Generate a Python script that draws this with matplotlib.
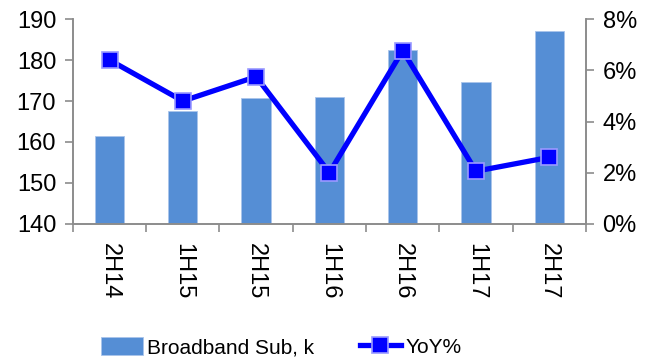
import matplotlib
matplotlib.use("Agg")
import matplotlib.pyplot as plt
from matplotlib.ticker import FuncFormatter

plt.rcParams['font.family'] = ['Liberation Sans', 'DejaVu Sans']

periods = ["2H14", "1H15", "2H15", "1H16", "2H16", "1H17", "2H17"]
broadband_subs = [161.5, 167.6, 170.8, 171.0, 182.4, 174.6, 187.1]
yoy_pct = [6.4, 4.8, 5.75, 2.0, 6.77, 2.06, 2.6]

bar_color = "#558ED5"
line_color = "#0000FF"
spine_color = "#8C8C8C"

fig = plt.figure(figsize=(6.51, 3.6), dpi=100)
ax = fig.add_axes([0.112, 0.378, 0.788, 0.569])
ax2 = ax.twinx()

x = list(range(len(periods)))
ax.bar(x, broadband_subs, width=0.4, color=bar_color, edgecolor="#A9C4EB",
       linewidth=0.6, label="Broadband Sub, k", zorder=2)
ax.set_ylim(140, 190)
ax.set_yticks(range(140, 191, 10))
ax.set_xlim(-0.5, len(periods) - 0.5)
ax.set_xticks([i - 0.5 for i in range(len(periods) + 1)], minor=False)
ax.set_xticklabels([])
ax.set_xticks(x, minor=True)
ax.set_xticklabels(periods, minor=True, rotation=270, fontsize=17)
ax.tick_params(axis="x", which="minor", length=0, pad=14)
ax.tick_params(axis="x", which="major", length=6, color=spine_color, width=1.2)
ax.tick_params(axis="y", length=6, color=spine_color, width=1.2, labelsize=17, pad=6)

ax2.plot(x, yoy_pct, color=line_color, linewidth=3.8, marker="s", markersize=12,
         markerfacecolor=line_color, markeredgecolor="#9A9AFF", markeredgewidth=1.2,
         label="YoY%", zorder=3)
ax2.set_ylim(0, 8)
ax2.set_yticks(range(0, 9, 2))
ax2.yaxis.set_major_formatter(FuncFormatter(lambda v, p: f"{v:.0f}%"))
ax2.tick_params(axis="y", length=6, color=spine_color, width=1.2, labelsize=17, pad=6)

for a in (ax, ax2):
    a.spines["top"].set_visible(False)
    for s in ("left", "right", "bottom"):
        a.spines[s].set_color(spine_color)
        a.spines[s].set_linewidth(1.2)

handles = ax.get_legend_handles_labels()[0] + ax2.get_legend_handles_labels()[0]
labels = ["Broadband Sub, k", "YoY%"]
fig.legend(handles, labels, loc="center", bbox_to_anchor=(0.432, 0.035),
           ncol=2, frameon=False, fontsize=15, handlelength=2.0,
           handleheight=0.9, handletextpad=0.2, columnspacing=2.2,
           borderpad=0.0)

fig.savefig("out.png", dpi=100)
